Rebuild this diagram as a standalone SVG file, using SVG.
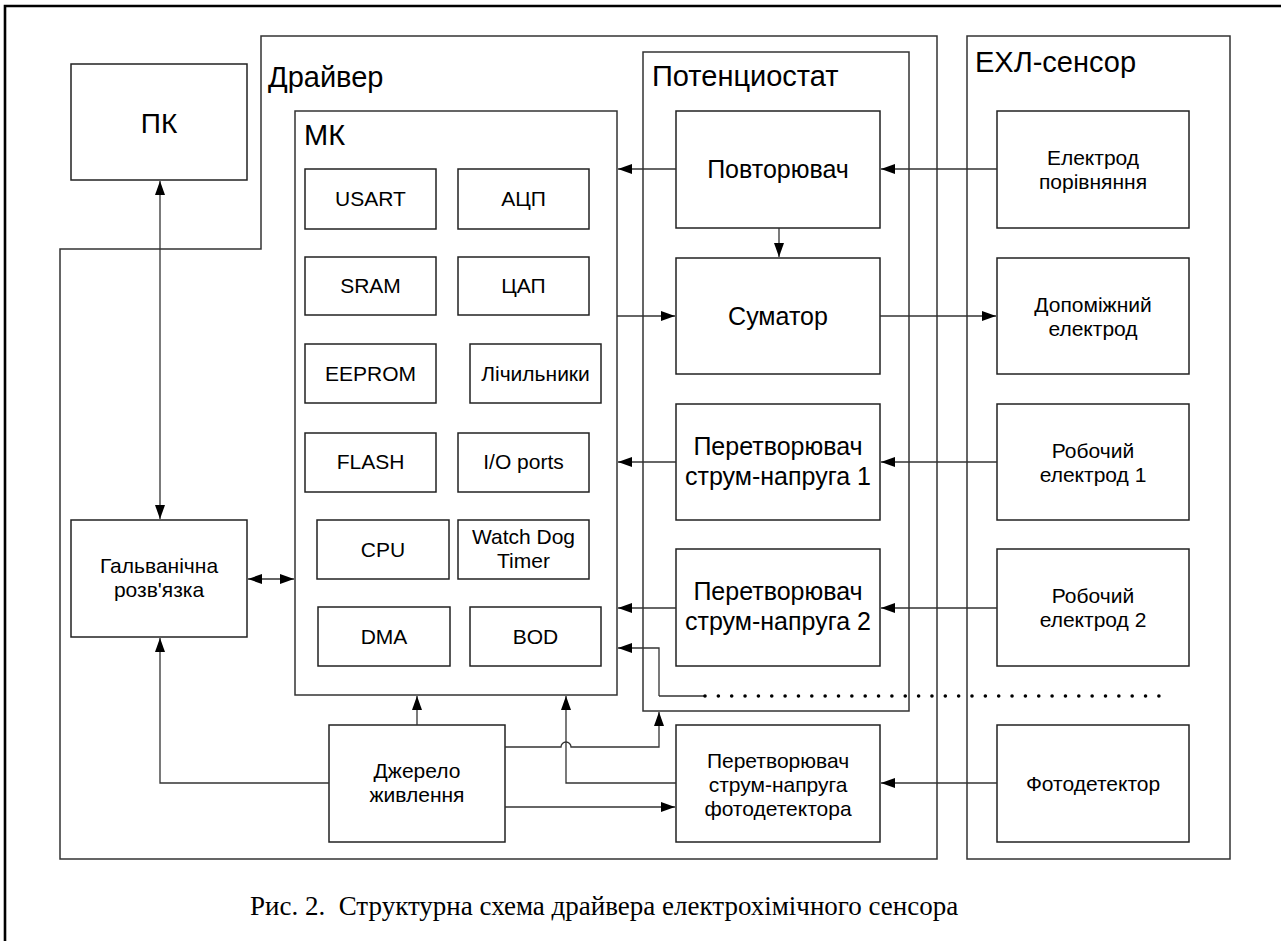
<svg xmlns="http://www.w3.org/2000/svg" width="1281" height="941" viewBox="0 0 1281 941">
<defs>
<marker id="ah" markerUnits="userSpaceOnUse" markerWidth="14" markerHeight="10" refX="14" refY="5" orient="auto-start-reverse">
<path d="M0,0 L14,5 L0,10 Z" fill="#000"/>
</marker>
</defs>
<style>
.frame{fill:none;stroke:#000;stroke-width:2.6}
.cont{fill:none;stroke:#333;stroke-width:1.5}
.box{fill:#fff;stroke:#222;stroke-width:1.5}
.c{fill:none;stroke:#333;stroke-width:1.3}
.ca{fill:none;stroke:#333;stroke-width:1.3;marker-end:url(#ah)}
.cb{fill:none;stroke:#333;stroke-width:1.3;marker-start:url(#ah);marker-end:url(#ah)}
text{font-family:"Liberation Sans",Arial,sans-serif;fill:#000}
.big{font-size:29px}
.lbl{font-size:25px;text-anchor:middle}
.sm{font-size:21px;text-anchor:middle}
.cap{font-family:"Liberation Serif","Times New Roman",serif;font-size:27px}
</style>
<path class="frame" d="M5,948 V6 H1290"/>
<g id="driver"><path class="cont" d="M261,36 H937 V859 H60 V249 H261 Z"/><text class="big" x="268" y="87">Драйвер</text></g>
<g id="potentiostat"><rect class="cont" x="643" y="52" width="266" height="659"/><text class="big" x="652" y="86">Потенциостат</text></g>
<g id="sensor"><rect class="cont" x="967" y="36" width="263" height="823"/><text class="big" x="975" y="72">ЕХЛ-сенсор</text></g>
<g id="mk"><rect class="cont" x="295" y="111" width="322" height="584"/><text class="big" x="304" y="145">МК</text></g>
<g id="pk"><rect class="box" x="71" y="64" width="176" height="116"/><text class="lbl" style="font-size:28px" x="159" y="133">ПК</text></g>
<g id="galv"><rect class="box" x="71" y="520" width="176" height="117"/><text class="sm" x="159" y="573">Гальванічна</text><text class="sm" x="159" y="597">розв'язка</text></g>
<g id="dzherelo"><rect class="box" x="329" y="725" width="176" height="117"/><text class="sm" x="417" y="778">Джерело</text><text class="sm" x="417" y="802">живлення</text></g>
<g id="usart"><rect class="box" x="305" y="169" width="131" height="60"/><text class="sm" x="370.5" y="206">USART</text></g>
<g id="adc"><rect class="box" x="458" y="169" width="131" height="60"/><text class="sm" x="523.5" y="206">АЦП</text></g>
<g id="sram"><rect class="box" x="305" y="257" width="131" height="58"/><text class="sm" x="370.5" y="293">SRAM</text></g>
<g id="dac"><rect class="box" x="458" y="257" width="131" height="58"/><text class="sm" x="523.5" y="293">ЦАП</text></g>
<g id="eeprom"><rect class="box" x="305" y="344" width="131" height="59"/><text class="sm" x="370.5" y="381">EEPROM</text></g>
<g id="counters"><rect class="box" x="470" y="344" width="131" height="59"/><text class="sm" x="535.5" y="381">Лічильники</text></g>
<g id="flash"><rect class="box" x="305" y="433" width="131" height="59"/><text class="sm" x="370.5" y="469">FLASH</text></g>
<g id="io"><rect class="box" x="458" y="433" width="131" height="59"/><text class="sm" x="523.5" y="469">I/O ports</text></g>
<g id="cpu"><rect class="box" x="317" y="520" width="132" height="59"/><text class="sm" x="383" y="557">CPU</text></g>
<g id="wdt"><rect class="box" x="458" y="520" width="131" height="59"/><text class="sm" x="523.5" y="544">Watch Dog</text><text class="sm" x="523.5" y="568">Timer</text></g>
<g id="dma"><rect class="box" x="318" y="607" width="132" height="59"/><text class="sm" x="384" y="644">DMA</text></g>
<g id="bod"><rect class="box" x="470" y="607" width="131" height="59"/><text class="sm" x="535.5" y="644">BOD</text></g>
<g id="povt"><rect class="box" x="676" y="111" width="204" height="117"/><text class="lbl" x="778" y="178">Повторювач</text></g>
<g id="sumator"><rect class="box" x="676" y="258" width="204" height="116"/><text class="lbl" x="778" y="325">Суматор</text></g>
<g id="conv1"><rect class="box" x="676" y="404" width="204" height="116"/><text class="lbl" x="778" y="455">Перетворювач</text><text class="lbl" x="778" y="485">струм-напруга 1</text></g>
<g id="conv2"><rect class="box" x="676" y="549" width="204" height="117"/><text class="lbl" x="778" y="600">Перетворювач</text><text class="lbl" x="778" y="630">струм-напруга 2</text></g>
<g id="convf"><rect class="box" x="676" y="725" width="204" height="117"/><text class="sm" x="778" y="768">Перетворювач</text><text class="sm" x="778" y="792">струм-напруга</text><text class="sm" x="778" y="816">фотодетектора</text></g>
<g id="eref"><rect class="box" x="997" y="111" width="192" height="117"/><text class="sm" x="1093" y="165">Електрод</text><text class="sm" x="1093" y="189">порівняння</text></g>
<g id="eaux"><rect class="box" x="997" y="258" width="192" height="116"/><text class="sm" x="1093" y="312">Допоміжний</text><text class="sm" x="1093" y="336">електрод</text></g>
<g id="ew1"><rect class="box" x="997" y="404" width="192" height="116"/><text class="sm" x="1093" y="458">Робочий</text><text class="sm" x="1093" y="482">електрод 1</text></g>
<g id="ew2"><rect class="box" x="997" y="549" width="192" height="117"/><text class="sm" x="1093" y="603">Робочий</text><text class="sm" x="1093" y="627">електрод 2</text></g>
<g id="photo"><rect class="box" x="997" y="725" width="192" height="117"/><text class="sm" x="1093" y="791">Фотодетектор</text></g>
<g id="connectors">
<path class="cb" d="M160,181 V519"/>
<path class="cb" d="M248,579 H294"/>
<path class="ca" d="M676,169 H618"/>
<path class="ca" d="M997,169 H881"/>
<path class="ca" d="M779,228 V257"/>
<path class="ca" d="M617,316 H675"/>
<path class="ca" d="M880,316 H996"/>
<path class="ca" d="M676,462 H618"/>
<path class="ca" d="M997,462 H881"/>
<path class="ca" d="M676,608 H618"/>
<path class="ca" d="M997,608 H881"/>
<path class="ca" d="M997,783 H881"/>
<path class="ca" d="M659,696 V648 H618"/>
<path class="c" d="M659,696 H705"/>
<line x1="705" y1="696" x2="1162" y2="696" stroke="#000" stroke-width="3.6" stroke-linecap="round" stroke-dasharray="0 13.35"/>
<path class="ca" d="M676,783 H566 V696"/>
<path class="ca" d="M505,747 H561 A5,5 0 0 1 571,747 H659 V712"/>
<path class="ca" d="M505,807 H675"/>
<path class="ca" d="M417,725 V696"/>
<path class="ca" d="M329,783 H160 V638"/>
</g>
<text class="cap" x="250" y="915">Рис. 2.&#160; Структурна схема драйвера електрохімічного сенсора</text>
</svg>
